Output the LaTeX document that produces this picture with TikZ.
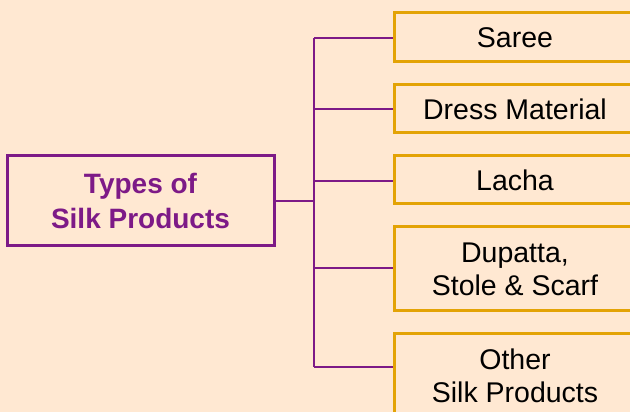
\documentclass[tikz,border=0pt]{standalone}
\usepackage{fontspec}
\setmainfont{Liberation Sans}
\definecolor{bg}{HTML}{FFE8D2}
\definecolor{purp}{HTML}{7D1A87}
\definecolor{gold}{HTML}{E3A306}
\begin{document}
\begin{tikzpicture}[x=1pt,y=1pt,
  rootbox/.style={draw=purp,line width=3pt,fill=bg,minimum width=267pt,minimum height=90pt,
    align=center,text=purp,font=\fontsize{28}{35}\selectfont\bfseries,inner sep=0pt},
  leafbox/.style={draw=gold,line width=3pt,fill=bg,minimum width=242pt,
    align=center,text=black,font=\fontsize{28.5}{33}\selectfont,inner sep=0pt},
  link/.style={draw=purp,line width=2.8pt}]
\fill[bg] (0,0) rectangle (630,412);
\clip (0,0) rectangle (630,412);
\useasboundingbox (0,0) rectangle (630,412);
\node[rootbox] (root) at (140.5,211) {Types of\\Silk Products};
\node[leafbox,minimum height=49pt] (saree) at (515,374.5) {Saree};
\node[leafbox,minimum height=48pt] (dress) at (515,303) {Dress Material};
\node[leafbox,minimum height=48pt] (lacha) at (515,232) {Lacha};
\node[leafbox,minimum height=84pt] (dupatta) at (515,143) {Dupatta,\\Stole \& Scarf};
\node[leafbox,minimum height=84pt] (other) at (515,36) {Other\\Silk Products};
\coordinate (t1) at (314,374);
\coordinate (t2) at (314,303);
\coordinate (t3) at (314,231);
\coordinate (t4) at (314,144);
\coordinate (t5) at (314,45);
\coordinate (tm) at (314,211);
\draw[link] (root.east) -- (tm);
\draw[link] (t1) -- (t5);
\draw[link] (t1) -- (t1 -| saree.west);
\draw[link] (t2) -- (t2 -| dress.west);
\draw[link] (t3) -- (t3 -| lacha.west);
\draw[link] (t4) -- (t4 -| dupatta.west);
\draw[link] (t5) -- (t5 -| other.west);
\end{tikzpicture}
\end{document}
